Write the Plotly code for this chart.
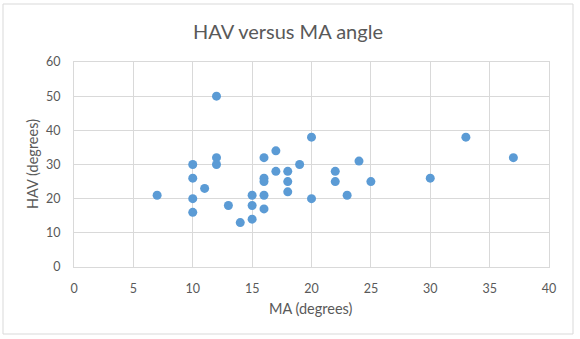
import plotly.graph_objects as go

# MA angle (degrees) and HAV angle (degrees) for each foot
ma_deg = [7, 10, 10, 10, 10, 11, 12, 12, 12, 13, 14, 15, 15, 15,
          16, 16, 16, 16, 16, 17, 17, 18, 18, 18, 19, 20, 20,
          22, 22, 23, 24, 25, 30, 33, 37]
hav_deg = [21, 30, 26, 20, 16, 23, 50, 32, 30, 18, 13, 21, 18, 14,
           32, 26, 25, 21, 17, 34, 28, 28, 25, 22, 30, 38, 20,
           28, 25, 21, 31, 25, 26, 38, 32]

x_ticks = [0, 5, 10, 15, 20, 25, 30, 35, 40]
y_ticks = [0, 10, 20, 30, 40, 50, 60]

W, H = 580, 339
L, R, T, B = 74, 31, 62, 72
pw, ph = W - L - R, H - T - B

FONT = "Lato, Calibri, Liberation Sans, sans-serif"
GRID = "#d9d9d9"
TXT = "#595959"

fig = go.Figure(
    go.Scatter(
        x=ma_deg, y=hav_deg, mode="markers",
        marker=dict(size=9, color="#5B9BD5", line=dict(width=0)),
        hoverinfo="x+y",
    )
)

def px_x(p):
    return (p - L) / pw

def px_y(p):
    return (H - B - p) / ph

fig.update_layout(
    width=W, height=H,
    margin=dict(l=L, r=R, t=T, b=B, autoexpand=False),
    paper_bgcolor="white", plot_bgcolor="white",
    showlegend=False,
    font=dict(family=FONT, color=TXT, size=12),
    title=dict(text="HAV versus MA angle", x=288 / W, xanchor="center",
               y=1 - 32 / H, yanchor="middle", yref="container",
               font=dict(family=FONT, size=20, color=TXT)),
    xaxis=dict(range=[0, 40], tickvals=x_ticks, showgrid=True, gridcolor=GRID,
               gridwidth=1, zeroline=False, showline=True, linecolor=GRID,
               mirror=True, ticks="", ticklabelstandoff=10,
               tickfont=dict(size=12.5, color=TXT)),
    yaxis=dict(range=[0, 60], tickvals=y_ticks, showgrid=True, gridcolor=GRID,
               gridwidth=1, zeroline=False, showline=True, linecolor=GRID,
               mirror=True, ticks="", ticklabelstandoff=10,
               tickfont=dict(size=12.5, color=TXT)),
    annotations=[
        dict(text="MA (degrees)", xref="paper", yref="paper",
             x=px_x(311), y=px_y(308), xanchor="center", yanchor="middle",
             showarrow=False, font=dict(family=FONT, size=14.5, color=TXT)),
        dict(text="HAV (degrees)", xref="paper", yref="paper",
             x=px_x(32), y=px_y(164), xanchor="center", yanchor="middle",
             textangle=-90, showarrow=False,
             font=dict(family=FONT, size=14.5, color=TXT)),
    ],
    shapes=[
        dict(type="rect", xref="paper", yref="paper",
             x0=px_x(3), x1=px_x(573), y0=px_y(334), y1=px_y(4),
             line=dict(color=GRID, width=1), fillcolor="rgba(0,0,0,0)",
             layer="below"),
    ],
)

fig.write_html("out.html")
